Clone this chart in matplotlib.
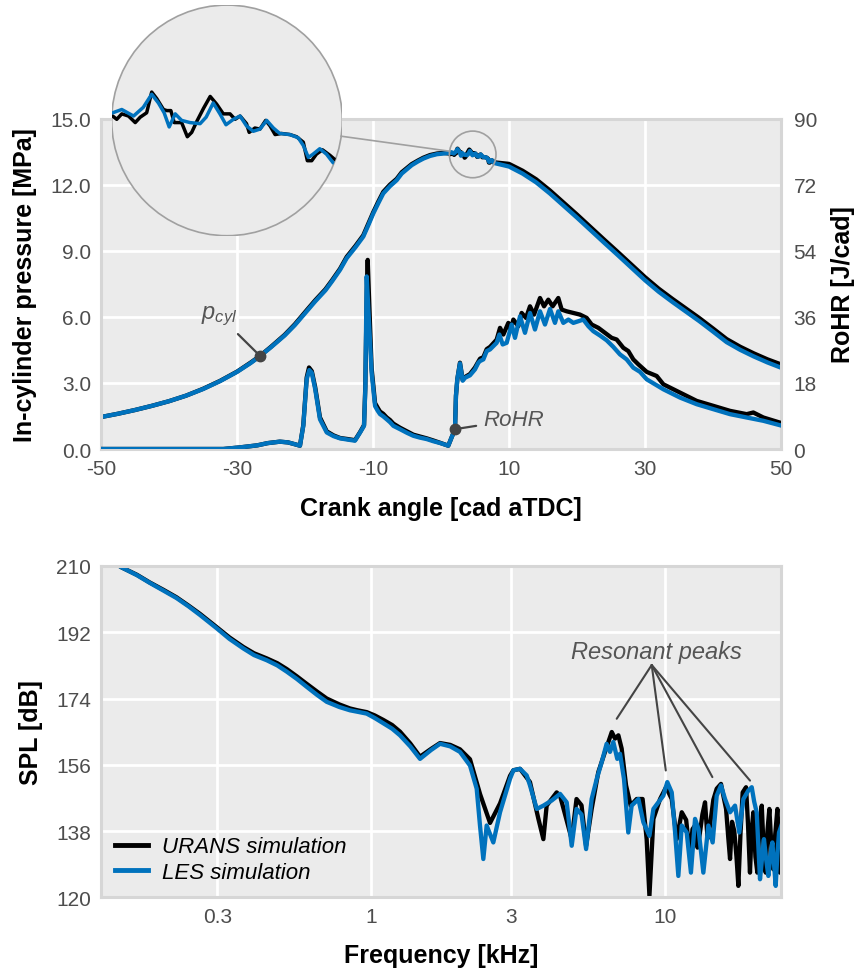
import numpy as np
import matplotlib
matplotlib.use("Agg")
import matplotlib.pyplot as plt
from matplotlib.patches import Circle, Ellipse
from matplotlib.lines import Line2D

plt.rcParams['font.family'] = ['Liberation Sans', 'DejaVu Sans']
plt.rcParams['mathtext.fontset'] = 'custom'
plt.rcParams['mathtext.it'] = 'Liberation Sans:italic'
plt.rcParams['mathtext.rm'] = 'Liberation Sans'

# ---------------- in-cylinder pressure [MPa] vs crank angle [cad aTDC]
CA_URANS_P = [-50, -47.5, -45, -42.5, -40, -37.5, -35, -32.5, -30, -28, -26.6, -25, -23, -21.5, -19.75,
              -18.5, -17, -16, -14.85, -13.87, -12.6, -11.43, -10.7, -9.96, -9.2, -8.49, -7.5, -6.52,
              -5.78, -4.31, -3.4, -2.6, -1.62, -0.6, 0.34,
              1.26, 1.38, 1.53, 1.73, 1.93, 2.08, 2.27, 2.42,
              2.57, 2.77, 2.87, 2.99, 3.09, 3.31, 3.48, 3.61, 3.76, 3.96, 4.16, 4.35, 4.55, 4.75, 4.90,
              5.05, 5.24, 5.32, 5.49, 5.64, 5.81, 5.94, 6.09, 6.28, 6.53, 6.73, 6.93, 7.05, 7.18, 7.32,
              7.50, 7.72, 7.87, 10, 12, 14, 16, 18, 20, 22, 24, 26, 28, 30, 32, 34, 36, 38, 40, 42,
              44, 46, 48, 50]
P_URANS = [1.45, 1.6, 1.77, 1.96, 2.17, 2.42, 2.73, 3.09, 3.51, 3.92, 4.23, 4.64, 5.18, 5.66, 6.3,
           6.75, 7.25, 7.67, 8.18, 8.72, 9.21, 9.7, 10.22, 10.75, 11.24, 11.67, 12.0, 12.26,
           12.56, 12.93, 13.09, 13.22, 13.34, 13.41, 13.44,
           13.41, 13.38, 13.43, 13.41, 13.35, 13.40, 13.44, 13.63,
           13.57, 13.47, 13.46, 13.46, 13.35, 13.35, 13.22, 13.26, 13.36, 13.48, 13.59, 13.52, 13.43, 13.43, 13.38,
           13.41, 13.34, 13.26, 13.30, 13.29, 13.37, 13.32, 13.24, 13.25, 13.24, 13.22, 13.17, 13.00, 13.00, 13.06,
           13.10, 13.05, 13.01, 12.94, 12.63, 12.24, 11.74, 11.19, 10.64, 10.07, 9.5, 8.94, 8.37, 7.8,
           7.28, 6.82, 6.38, 5.94, 5.47, 4.99, 4.64, 4.34, 4.07, 3.84]

CA_LES_P = [-50, -47.5, -45, -42.5, -40, -37.5, -35, -32.5, -30, -28, -26.6, -25, -23, -21.5, -19.75,
            -18.5, -17, -16, -14.85, -13.87, -12.6, -11.43, -10.7, -9.96, -9.2, -8.49, -7.5, -6.52,
            -5.78, -4.31, -3.4, -2.6, -1.62, -0.6, 0.34,
            1.26, 1.53, 1.88, 2.17, 2.42, 2.62, 2.79, 2.94,
            3.12, 3.31, 3.56, 3.86, 4.04, 4.25, 4.45, 4.63, 4.85, 5.05, 5.24, 5.44, 5.64, 5.84, 6.04,
            6.23, 6.53, 6.78, 6.93, 7.08, 7.22, 7.42, 7.62, 7.82, 10, 12, 14, 16, 18, 20, 22, 24, 26,
            28, 30, 32, 34, 36, 38, 40, 42, 44, 46, 48, 50]
P_LES = [1.45, 1.6, 1.77, 1.96, 2.17, 2.42, 2.72, 3.08, 3.5, 3.9, 4.22, 4.62, 5.15, 5.62, 6.25,
         6.7, 7.2, 7.62, 8.13, 8.66, 9.15, 9.64, 10.15, 10.69, 11.17, 11.6, 11.93, 12.2,
         12.5, 12.88, 13.05, 13.18, 13.3, 13.38, 13.41,
         13.44, 13.47, 13.41, 13.49, 13.61, 13.53, 13.44, 13.31,
         13.43, 13.37, 13.35, 13.34, 13.40, 13.53, 13.43, 13.33, 13.38, 13.41, 13.32, 13.27, 13.29, 13.37, 13.30,
         13.25, 13.24, 13.21, 13.14, 13.03, 13.06, 13.11, 13.06, 12.98, 12.82, 12.5, 12.1, 11.6, 11.05, 10.5,
         9.93, 9.36, 8.8, 8.23, 7.66, 7.14, 6.68, 6.24, 5.8, 5.33, 4.85, 4.5, 4.2, 3.93, 3.69]

# ---------------- rate of heat release [J/cad]
CA_URANS_R = [-50, -40, -32, -29.5, -27, -25.5, -23.7, -22.5, -21.5, -20.74, -20.25, -19.75, -19.41, -19.0,
              -18.5, -17.8, -16.8, -15.8, -14.85, -13.7, -12.65, -11.9, -11.32, -11.13, -10.9, -10.78, -10.54,
              -10.2, -9.7, -9.3, -8.97, -8.5, -7.99, -7.5, -7.0, -6.03, -5.0, -4.07, -3.1, -2.1, -1.1,
              -0.15, 1.07, 1.57, 2.06, 2.2, 2.4, 2.79, 3.19, 3.53,
              4.26, 5.0, 5.49, 5.74, 6.23, 6.72, 7.21, 7.7, 8.19, 8.68, 9.17, 9.9, 10.25, 10.64, 11.37,
              11.86, 12.5, 13.09, 13.68, 14.56, 15.15, 15.78, 16.42, 17.25, 17.75, 18.48, 19.46, 20.44,
              21.42, 22.16, 23.14, 24.12, 25.1, 25.83, 26.81, 27.55, 28.28, 29.02, 30.25, 31.72, 32.7,
              35.15, 37.6, 40.05, 42.5, 44.95, 45.93, 47.4, 50.0]
R_URANS = [0, 0, 0, 0.45, 1.0, 1.6, 2.0, 1.8, 1.3, 0.9, 6.5, 19.5, 22.2, 21.2,
           16.8, 8.6, 4.8, 3.7, 3.0, 2.7, 2.4, 4.6, 6.5, 17.0, 45.0, 51.5, 38.9,
           22.0, 12.5, 11.2, 10.2, 9.6, 8.6, 7.9, 6.9, 5.8, 4.8, 3.9, 3.4, 2.9, 2.3,
           1.7, 0.9, 3.2, 5.4, 14.5, 19.0, 23.5, 18.8, 19.6,
           20.4, 22.2, 23.8, 24.6, 25.0, 27.2, 27.8, 28.8, 29.8, 32.99, 31.18, 34.34, 32.5, 35.25, 33.44,
           37.05, 35.7, 38.86, 36.6, 41.12, 38.86, 40.67, 38.86, 41.12, 37.96, 37.5, 37.05, 36.6,
           35.7, 33.89, 32.99, 31.63, 30.27, 29.82, 27.56, 26.66, 24.4, 23.05, 21.0, 19.88, 17.62,
           15.36, 13.1, 11.75, 10.39, 9.49, 9.94, 8.58, 7.1]

CA_LES_R = [-50, -40, -32, -29.5, -27, -25.5, -23.7, -22.5, -21.5, -20.74, -20.25, -19.75, -19.37, -19.01,
            -18.5, -17.8, -16.8, -15.8, -14.85, -13.7, -12.65, -11.9, -11.32, -11.13, -10.93, -10.54, -10.2,
            -9.7, -9.3, -8.97, -8.5, -7.99, -7.5, -7.0, -6.03, -5.0, -4.07, -3.1, -2.1, -1.1, -0.15,
            1.07, 1.57, 2.06, 2.2, 2.4, 2.79, 3.19, 3.53, 4.26,
            5.0, 5.49, 5.74, 6.23, 6.72, 7.21, 7.7, 8.19, 8.58, 9.07, 9.66, 10.39, 10.88, 11.62, 12.35,
            13.09, 13.82, 14.56, 15.29, 16.03, 16.76, 17.25, 17.99, 18.73, 19.46, 20.2, 20.93, 21.67,
            22.4, 23.38, 24.36, 25.34, 26.32, 27.3, 28.28, 29.27, 30.25, 32.7, 35.15, 37.6, 40.05,
            42.5, 44.95, 47.4, 50.0]
R_LES = [0, 0, 0, 0.45, 1.0, 1.6, 2.0, 1.8, 1.3, 0.9, 6.3, 19.0, 21.5, 20.8,
         16.3, 8.1, 4.5, 3.5, 2.9, 2.55, 2.26, 4.5, 6.3, 16.3, 47.0, 33.0, 20.8,
         11.7, 10.4, 9.5, 8.9, 8.1, 7.3, 6.3, 5.4, 4.4, 3.6, 3.1, 2.7, 2.1, 1.63,
         0.9, 3.2, 5.4, 14.5, 19.0, 23.3, 18.6, 19.4, 20.06,
         21.69, 23.5, 23.95, 24.4, 26.66, 27.11, 28.02, 28.92, 31.18, 28.47, 28.92, 33.89, 30.27, 36.15, 31.63,
         37.05, 32.53, 37.5, 33.89, 38.14, 34.34, 37.5, 34.34, 35.25, 34.34, 34.79, 35.25, 33.44,
         32.08, 30.9, 29.6, 27.8, 25.76, 24.4, 22.14, 21.0, 18.97, 16.26, 14.0, 12.2, 10.84,
         9.49, 8.58, 7.68, 6.4]

# ---------------- sound pressure level [dB] vs frequency [kHz]
F_URANS = [0.13, 0.142, 0.16, 0.177, 0.197, 0.218, 0.24, 0.262, 0.2985, 0.33, 0.368, 0.4, 0.442, 0.48,
           0.517, 0.56, 0.604, 0.655, 0.707, 0.78, 0.848, 0.9, 0.967, 1.03, 1.1, 1.18, 1.255, 1.36,
           1.468, 1.6, 1.717, 1.86, 2.007, 2.171, 2.35, 2.54, 2.747, 2.971, 3.049, 3.212, 3.473,
           3.71, 3.857, 3.958, 4.28, 4.395, 4.815, 5.0, 5.2, 5.39, 5.63, 5.93, 6.25, 6.59, 6.76, 6.94,
           7.12, 7.37, 7.64, 8.01, 8.39, 8.66, 8.85, 9.13, 9.62, 10.08, 10.54, 10.96, 11.4, 11.8, 12.16,
           12.4, 12.65, 12.9, 13.15, 13.4, 13.68, 13.95, 14.22, 14.6, 14.99, 15.5, 15.8, 16.13, 16.4,
           16.64, 16.9, 17.2, 17.5, 17.76, 18.05, 18.37, 18.86, 19.15, 19.45, 19.7, 19.97, 20.3, 20.61,
           20.95, 21.33, 21.65, 22.0, 22.3, 22.64, 23.0, 23.36, 23.7, 24.11, 24.35, 24.6, 25.0]
SPL_URANS = [211.5, 209.6, 207.6, 205.5, 203.5, 201.5, 199.2, 197.0, 193.4, 190.6, 188.0, 186.3, 184.9, 183.6,
             182.0, 180.0, 178.0, 175.9, 174.0, 172.4, 171.3, 170.8, 170.3, 169.4, 168.2, 166.8, 165.0, 161.8,
             158.2, 160.3, 161.9, 161.4, 160.2, 157.5, 148.0, 140.2, 145.5, 153.0, 154.5, 154.9, 151.3,
             141.3, 135.8, 144.9, 148.5, 147.6, 135.8, 146.7, 145.0, 134.0, 144.0, 154.0, 159.5, 164.9, 163.1, 164.0,
             160.4, 150.4, 144.9, 146.7, 146.7, 135.8, 120.4, 141.3, 146.7, 149.9, 146.7, 135.8, 143.1, 141.0, 131.3,
             138.5, 139.5, 133.5, 137.6, 142.5, 145.8, 136.0, 139.5, 146.5, 149.5, 150.8, 147.5, 144.0, 136.5,
             130.4, 140.5, 138.0, 131.0, 123.1, 137.0, 148.5, 149.9, 140.0, 126.7, 138.0, 143.1, 131.0, 126.7,
             139.0, 144.9, 133.0, 126.7, 138.0, 144.0, 134.0, 127.6, 137.0, 144.0, 133.0, 126.7, 142.0]

F_LES = [0.13, 0.142, 0.16, 0.177, 0.197, 0.218, 0.24, 0.262, 0.2985, 0.33, 0.368, 0.4, 0.442, 0.48,
         0.517, 0.56, 0.604, 0.655, 0.707, 0.78, 0.848, 0.9, 0.967, 1.03, 1.1, 1.18, 1.255, 1.36,
         1.468, 1.6, 1.717, 1.86, 2.007, 2.171, 2.288, 2.348, 2.41, 2.474, 2.606, 2.747, 2.971,
         3.049, 3.212, 3.386, 3.473, 3.662, 3.857, 4.118, 4.395, 4.63, 4.815, 5.0, 5.2, 5.39, 5.63,
         5.86, 6.09, 6.33, 6.5, 6.67, 6.88, 7.03, 7.25, 7.5, 7.7, 8.12, 8.44, 8.85, 9.13, 9.49, 9.87,
         10.18, 10.54, 10.82, 11.1, 11.4, 11.85, 12.25, 12.65, 13.0, 13.5, 14.04, 14.52, 14.99, 15.5,
         16.0, 16.64, 17.3, 17.89, 18.47, 19.2, 19.72, 20.1, 20.5, 21.04, 21.4, 21.7, 22.1, 22.46, 22.8,
         23.18, 23.79, 24.1, 24.42, 25.0]
SPL_LES = [211.5, 209.6, 207.5, 205.4, 203.3, 201.3, 199.0, 196.7, 193.1, 190.2, 187.6, 185.8, 184.4, 183.0,
           181.3, 179.3, 177.2, 175.0, 173.1, 171.7, 170.8, 170.4, 169.9, 168.7, 167.3, 165.8, 164.0, 161.0,
           157.6, 160.0, 161.7, 161.0, 159.5, 155.8, 149.5, 139.5, 130.4, 139.5, 134.9, 143.1, 152.2,
           154.5, 154.9, 153.1, 150.4, 144.0, 144.9, 146.3, 148.1, 145.8, 134.0, 144.0, 142.5, 133.1, 146.7,
           152.2, 156.7, 161.7, 159.5, 162.2, 157.6, 159.0, 152.2, 137.6, 144.9, 146.7, 140.4, 136.7, 144.0, 145.8, 147.6,
           151.3, 148.5, 137.6, 125.8, 139.5, 137.6, 126.7, 141.3, 138.5, 126.7, 139.5, 134.9, 147.6, 150.4,
           146.7, 143.1, 144.9, 137.6, 146.7, 149.0, 149.9, 146.0, 143.1, 124.9, 131.0, 135.8, 130.0, 125.8, 131.0,
           134.9, 123.1, 131.5, 137.6, 140.0]

CA_TICKS = [-50, -30, -10, 10, 30, 50]
P_TICKS = [0, 3, 6, 9, 12, 15]
R_TICKS = [0, 18, 36, 54, 72, 90]
F_TICKS = [0.3, 1, 3, 10]
F_TICKLABELS = ['0.3', '1', '3', '10']
SPL_TICKS = [120, 138, 156, 174, 192, 210]

# resonant peak call-outs (frequency kHz, SPL dB)
PEAK_LABEL = (9.32, 186.8)
PEAK_ORIGIN = (9.01, 183.1)
PEAK_TARGETS = [(6.85, 168.5), (10.06, 154.45), (14.49, 152.65), (19.46, 151.7)]

# magnified region of the pressure trace
ZOOM_CA, ZOOM_P, ZOOM_HALF_CA = 4.66, 13.37, 3.43

BLACK = '#000000'
BLUE = '#0072BD'
BG = '#EBEBEB'
FRAME = '#D6D6D6'
TICKC = '#4D4D4D'
NOTE = '#555555'
LW = 3.1

fig = plt.figure(figsize=(8.57, 9.70), dpi=100)
ax1 = fig.add_axes([0.11785, 0.53608, 0.79347, 0.34072])
ax1r = ax1.twinx()
ax2 = fig.add_axes([0.11785, 0.07392, 0.79347, 0.34155])


def style(ax, grid=True):
    ax.set_facecolor(BG)
    for s in ax.spines.values():
        s.set_color(FRAME)
        s.set_linewidth(2.2)
    ax.tick_params(length=0, labelsize=15, labelcolor=TICKC, pad=7)
    if grid:
        ax.grid(True, color='white', linewidth=2.0)
        ax.set_axisbelow(True)


style(ax1)
ax1r.patch.set_visible(False)
for s in ax1r.spines.values():
    s.set_visible(False)
ax1r.tick_params(length=0, labelsize=15, labelcolor=TICKC, pad=9)

# pressure traces
ax1.plot(CA_URANS_P, P_URANS, color=BLACK, lw=LW, solid_joinstyle='round')
ax1.plot(CA_LES_P, P_LES, color=BLUE, lw=LW, solid_joinstyle='round')
ax1.set_xlim(-50, 50)
ax1.set_ylim(0, 15)
ax1.set_xticks(CA_TICKS)
ax1.set_xticklabels([str(t) for t in CA_TICKS])
ax1.set_yticks(P_TICKS)
ax1.set_yticklabels(['%.1f' % t for t in P_TICKS])
ax1.set_xlabel('Crank angle [cad aTDC]', fontsize=18, fontweight='bold', labelpad=13)
ax1.set_ylabel('In-cylinder pressure [MPa]', fontsize=18, fontweight='bold', labelpad=10)

# heat release traces
ax1r.plot(CA_URANS_R, R_URANS, color=BLACK, lw=LW, solid_joinstyle='round')
ax1r.plot(CA_LES_R, R_LES, color=BLUE, lw=LW, solid_joinstyle='round')
ax1r.set_ylim(0, 90)
ax1r.set_yticks(R_TICKS)
ax1r.set_yticklabels([str(t) for t in R_TICKS])
ax1r.set_ylabel('RoHR [J/cad]', fontsize=18, fontweight='bold', labelpad=10)

# curve labels
ip = CA_LES_P.index(-26.6)
ax1.plot(CA_LES_P[ip], P_LES[ip], 'o', color='#444444', ms=7.5, zorder=6)
ax1.annotate('$p_{cyl}$', xy=(CA_LES_P[ip], P_LES[ip]), xytext=(-32.6, 6.05),
             ha='center', va='center', fontsize=17, color=NOTE,
             arrowprops=dict(arrowstyle='-', color='#444444', lw=1.6, shrinkA=4, shrinkB=0))
ir = CA_LES_R.index(2.06)
ax1r.plot(CA_LES_R[ir], R_LES[ir], 'o', color='#444444', ms=7.5, zorder=6)
ax1r.annotate('RoHR', xy=(CA_LES_R[ir], R_LES[ir]), xytext=(6.18, 7.9),
              ha='left', va='center', fontsize=16, style='italic', color=NOTE,
              arrowprops=dict(arrowstyle='-', color='#444444', lw=1.6, shrinkA=3, shrinkB=0))

# spectra
style(ax2)
ax2.set_xscale('log')
ax2.plot(F_URANS, SPL_URANS, color=BLACK, lw=LW, label='URANS simulation', solid_joinstyle='round')
ax2.plot(F_LES, SPL_LES, color=BLUE, lw=LW, label='LES simulation', solid_joinstyle='round')
ax2.set_xlim(0.1207, 24.8)
ax2.set_ylim(120, 210)
ax2.set_xticks(F_TICKS)
ax2.set_xticklabels(F_TICKLABELS)
ax2.xaxis.set_minor_locator(matplotlib.ticker.NullLocator())
ax2.set_yticks(SPL_TICKS)
ax2.set_yticklabels([str(t) for t in SPL_TICKS])
ax2.set_xlabel('Frequency [kHz]', fontsize=18, fontweight='bold', labelpad=12)
ax2.set_ylabel('SPL [dB]', fontsize=18, fontweight='bold', labelpad=10)

ax2.text(PEAK_LABEL[0], PEAK_LABEL[1], 'Resonant peaks', ha='center', va='center',
         fontsize=17, style='italic', color=NOTE)
for tgt in PEAK_TARGETS:
    ax2.annotate('', xy=tgt, xytext=PEAK_ORIGIN,
                 arrowprops=dict(arrowstyle='-', color='#444444', lw=1.5, shrinkA=0, shrinkB=0))

leg = ax2.legend(loc='lower left', frameon=False, fontsize=16, handlelength=1.45,
                 handletextpad=0.65, labelspacing=0.2, borderaxespad=0.25,
                 prop={'style': 'italic', 'size': 16})
for h in leg.get_lines():
    h.set_linewidth(3.5)

# magnifier: small circle on the trace, large circular inset above it
fig.canvas.draw()
to_px = ax1.transData
px0 = to_px.transform((ZOOM_CA, ZOOM_P))
r_px = to_px.transform((ZOOM_CA + ZOOM_HALF_CA, ZOOM_P))[0] - px0[0]
zoom_half_p = ZOOM_P - to_px.inverted().transform((px0[0], px0[1] - r_px))[1]
ax1.add_patch(Ellipse((ZOOM_CA, ZOOM_P), 2 * ZOOM_HALF_CA, 2 * zoom_half_p, fill=False,
                      edgecolor='#A0A0A0', lw=1.2, zorder=7))

W, H = fig.get_size_inches() * fig.dpi
ins_left, ins_top, ins_size = 111.7, 6.1, 230.6
ax_in = fig.add_axes([ins_left / W, 1 - (ins_top + ins_size) / H, ins_size / W, ins_size / H])
ax_in.set_xlim(ZOOM_CA - ZOOM_HALF_CA, ZOOM_CA + ZOOM_HALF_CA)
ax_in.set_ylim(ZOOM_P - zoom_half_p, ZOOM_P + zoom_half_p)
ax_in.axis('off')
disc = Circle((0.5, 0.5), 0.5, transform=ax_in.transAxes, facecolor=BG,
              edgecolor='#A0A0A0', lw=1.2, zorder=0)
ax_in.add_patch(disc)
for xs, ys, c in ((CA_URANS_P, P_URANS, BLACK), (CA_LES_P, P_LES, BLUE)):
    ln, = ax_in.plot(xs, ys, color=c, lw=2.5, solid_joinstyle='round', zorder=2)
    ln.set_clip_path(disc)

# connector between the two circles
big_c = np.array([ins_left + ins_size / 2, H - (ins_top + ins_size / 2)])
small_c = np.array(px0)
d = small_c - big_c
u = d / np.hypot(*d)
pa = big_c + u * ins_size / 2
pb = small_c - u * r_px
fig.add_artist(Line2D([pa[0] / W, pb[0] / W], [pa[1] / H, pb[1] / H],
                      transform=fig.transFigure, color='#A0A0A0', lw=1.2))

fig.savefig('out.png', dpi=100)
